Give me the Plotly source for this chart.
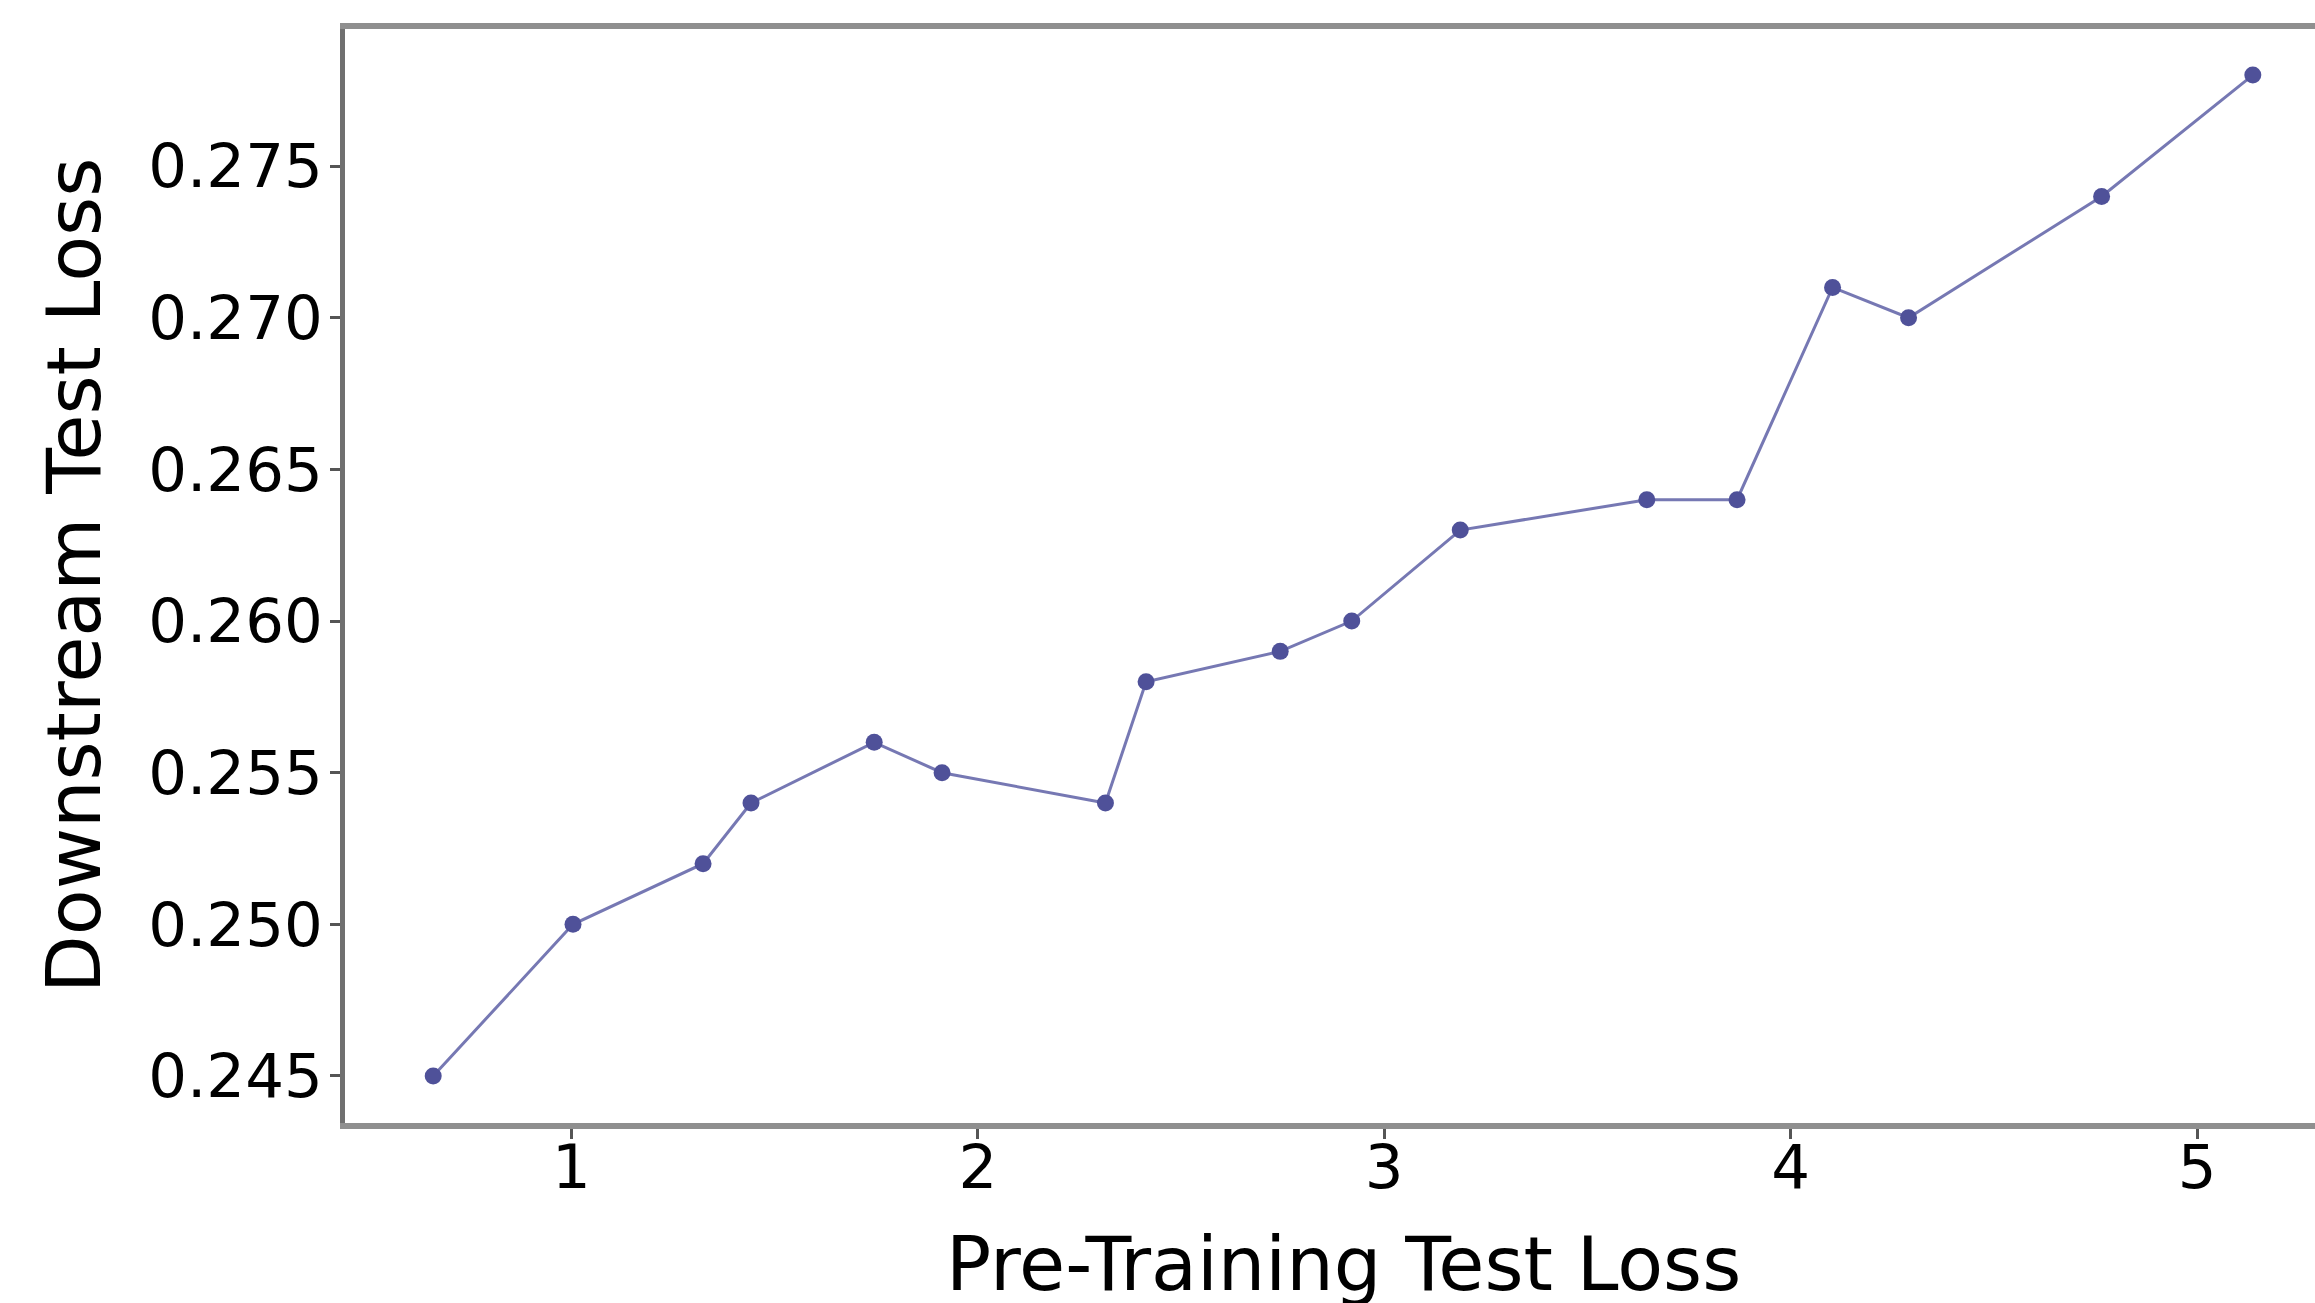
import plotly.graph_objects as go

# Pre-training loss vs downstream loss measurements
pretrain_loss = [0.660, 1.004, 1.324, 1.442, 1.745, 1.912, 2.314, 2.414, 2.744,
                 2.920, 3.187, 3.646, 3.868, 4.103, 4.290, 4.765, 5.137]
downstream_loss = [0.245, 0.250, 0.252, 0.254, 0.256, 0.255, 0.254, 0.258, 0.259,
                   0.260, 0.263, 0.264, 0.264, 0.271, 0.270, 0.274, 0.278]

x_ticks = [1, 2, 3, 4, 5]
y_ticks = [0.245, 0.250, 0.255, 0.260, 0.265, 0.270, 0.275]
y_tick_text = ["0.245", "0.250", "0.255", "0.260", "0.265", "0.270", "0.275"]

x_title = "Pre-Training Test Loss"
y_title = "Downstream Test Loss"

FONT = "DejaVu Sans"
W, H = 2315, 1303

fig = go.Figure()
fig.add_trace(go.Scatter(
    x=pretrain_loss,
    y=downstream_loss,
    mode="lines+markers",
    line=dict(color="rgba(80,82,158,0.78)", width=3),
    marker=dict(color="#4f5199", size=17, line=dict(width=0)),
    showlegend=False,
))

fig.update_layout(
    width=W,
    height=H,
    margin=dict(l=345, r=0, t=29, b=180),
    paper_bgcolor="white",
    plot_bgcolor="white",
    font=dict(family=FONT, color="black"),
    xaxis=dict(
        range=[0.443, 5.29],
        tickvals=x_ticks,
        ticktext=[str(v) for v in x_ticks],
        tickfont=dict(family=FONT, size=61, color="black"),
        ticks="outside",
        ticklen=10,
        tickwidth=3,
        tickcolor="#555555",
        ticklabelstandoff=-24,
        showline=True,
        linecolor="#8f8f8f",
        linewidth=6,
        mirror=True,
        showgrid=False,
        zeroline=False,
    ),
    yaxis=dict(
        range=[0.24345, 0.27952],
        tickvals=y_ticks,
        ticktext=y_tick_text,
        tickfont=dict(family=FONT, size=61, color="black"),
        ticks="outside",
        ticklen=10,
        tickwidth=3,
        tickcolor="#555555",
        ticklabelstandoff=-5,
        showline=True,
        linecolor="#707070",
        linewidth=5,
        mirror=False,
        showgrid=False,
        zeroline=False,
    ),
    annotations=[
        dict(
            text=x_title,
            xref="x", yref="paper",
            x=2.8985, y=0,
            xanchor="center", yanchor="middle",
            yshift=-141,
            showarrow=False,
            font=dict(family=FONT, size=75, color="black"),
        ),
        dict(
            text=y_title,
            xref="paper", yref="paper",
            x=0, y=0.5,
            xanchor="center", yanchor="middle",
            xshift=-271,
            textangle=-90,
            showarrow=False,
            font=dict(family=FONT, size=75, color="black"),
        ),
    ],
)

fig.write_html("out.html")
